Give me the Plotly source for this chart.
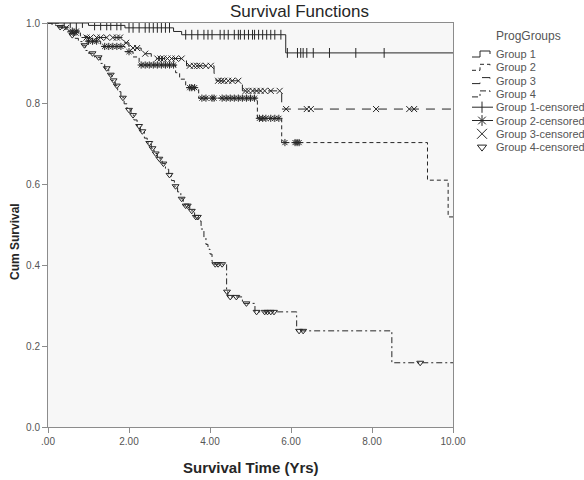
import plotly.graph_objects as go

W, H = 584, 480

# ---------------- data ----------------
x_ticks = [0, 2, 4, 6, 8, 10]
x_tick_labels = [".00", "2.00", "4.00", "6.00", "8.00", "10.00"]
y_ticks = [0, 0.2, 0.4, 0.6, 0.8, 1.0]
y_tick_labels = ["0.0", "0.2", "0.4", "0.6", "0.8", "1.0"]

group_names = ["Group 1", "Group 2", "Group 3", "Group 4"]

# Kaplan-Meier step functions (event times, survival after the event)
g1_t = [0, 1.0, 1.9, 3.1, 3.3, 5.87]
g1_s = [1.0, 0.994, 0.988, 0.979, 0.971, 0.926]
g1_cens = [0.4, 0.55, 0.7, 0.85, 1.15, 1.3, 1.45, 1.55, 1.7, 1.8, 2.0, 2.1, 2.25, 2.4,
           2.5, 2.6, 2.7, 2.8, 2.9, 3.0, 3.4, 3.55, 3.7, 3.85, 3.95, 4.05, 4.25, 4.35,
           4.45, 4.6, 4.7, 4.75, 4.85, 4.95, 5.05, 5.1, 5.2, 5.3, 5.4, 5.5, 5.6, 5.75,
           5.91, 6.16, 6.24, 6.3, 6.39, 6.55, 6.95, 7.6, 8.3]

g2_t = [0, 0.25, 0.5, 0.8, 0.95, 1.3, 1.9, 2.1, 2.25, 3.15, 3.25, 3.4, 3.72, 5.17,
        5.77, 9.37, 9.88]
g2_s = [1.0, 0.99, 0.98, 0.968, 0.955, 0.942, 0.929, 0.916, 0.896, 0.877, 0.861, 0.84,
        0.814, 0.764, 0.704, 0.611, 0.52]
g2_cens = [0.6, 0.7, 1.0, 1.1, 1.2, 1.4, 1.5, 1.6, 1.7, 1.8, 2.0, 2.3, 2.4, 2.5, 2.6,
           2.7, 2.8, 2.9, 3.0, 3.1, 3.5, 3.55, 3.62, 3.8, 3.9, 4.05, 4.1, 4.3, 4.4, 4.5,
           4.6, 4.7, 4.8, 4.9, 5.0, 5.1, 5.22, 5.3, 5.38, 5.5, 5.6, 5.7, 5.85, 6.1,
           6.15, 6.2]

g3_t = [0, 0.35, 0.55, 0.8, 1.85, 2.0, 2.3, 2.55, 3.42, 4.1, 4.15, 4.8, 5.77]
g3_s = [1.0, 0.988, 0.976, 0.964, 0.951, 0.938, 0.924, 0.912, 0.894, 0.875, 0.857,
        0.832, 0.787]
g3_cens = [0.45, 0.62, 0.68, 0.95, 1.05, 1.2, 1.3, 1.45, 1.6, 1.7, 1.78, 1.93, 2.1,
           2.2, 2.4, 2.7, 2.78, 2.85, 2.95, 3.05, 3.15, 3.3, 3.5, 3.6, 3.68, 3.75, 3.9,
           4.02, 4.2, 4.28, 4.35, 4.45, 4.55, 4.7, 4.88, 4.95, 5.05, 5.15, 5.25, 5.35,
           5.5, 5.72, 5.88, 6.39, 6.49, 8.1, 8.92, 9.04]

g4_t = [0, 0.1, 0.2, 0.35, 0.45, 0.55, 0.67, 0.75, 0.85, 0.92,
        1.0, 1.15, 1.3, 1.4, 1.5, 1.58, 1.66, 1.72, 1.8, 1.88,
        1.95, 2.05, 2.12, 2.2, 2.28, 2.38, 2.45, 2.55, 2.62, 2.7,
        2.82, 2.9, 2.98, 3.05, 3.12, 3.2, 3.28, 3.34, 3.5, 3.62,
        3.72, 3.78, 3.85, 3.9, 3.95, 4.0, 4.05, 4.1, 4.41, 4.44,
        4.8, 5.11, 6.14, 8.49]
g4_s = [1.0, 0.995, 0.99, 0.985, 0.978, 0.97, 0.962, 0.954, 0.945, 0.932,
        0.925, 0.915, 0.9, 0.888, 0.872, 0.858, 0.845, 0.83, 0.815, 0.8,
        0.785, 0.772, 0.76, 0.745, 0.732, 0.715, 0.703, 0.69, 0.677, 0.664,
        0.652, 0.638, 0.624, 0.61, 0.596, 0.582, 0.565, 0.548, 0.535, 0.52,
        0.51, 0.49, 0.47, 0.452, 0.44, 0.428, 0.41, 0.403, 0.335, 0.322,
        0.306, 0.285, 0.238, 0.159]
g4_cens = [0.3, 0.6, 0.9, 1.1, 1.25, 1.45, 1.55, 1.62, 1.7, 1.85, 2.0, 2.1, 2.25,
           2.33, 2.5, 2.58, 2.66, 2.75, 2.85, 3.0, 3.15, 3.3, 3.4, 3.45, 3.55, 3.65,
           3.7, 4.13, 4.2, 4.3, 4.42, 4.5, 4.65, 4.9, 5.15, 5.35, 5.42, 5.5, 5.58,
           6.2, 6.3, 9.19]

t_max = 10

# ---------------- styles ----------------
INK = "#262626"
AXIS = "#8c8c8c"
TXT = "#555555"
FONT = "Liberation Sans, Arial, sans-serif"

line_dashes = ["solid", "4px,3px", "9px,7px", "6px,3px,2px,3px"]
cens_symbols = ["line-ns-open", "asterisk-open", "x-thin-open", "triangle-down-open"]
cens_sizes = [7, 6, 6, 6]

groups = [(g1_t, g1_s, g1_cens), (g2_t, g2_s, g2_cens),
          (g3_t, g3_s, g3_cens), (g4_t, g4_s, g4_cens)]


def surv_at(ts, ss, t):
    val = ss[0]
    for ti, si in zip(ts, ss):
        if ti <= t:
            val = si
        else:
            break
    return val


fig = go.Figure()

for i, (ts, ss, cens) in enumerate(groups):
    assert len(ts) == len(ss)
    fig.add_trace(go.Scatter(
        x=list(ts) + [t_max], y=list(ss) + [ss[-1]],
        mode="lines", line=dict(color=INK, width=1, dash=line_dashes[i], shape="hv"),
        showlegend=False, hoverinfo="skip"))

for i, (ts, ss, cens) in enumerate(groups):
    fig.add_trace(go.Scatter(
        x=cens, y=[surv_at(ts, ss, c) for c in cens],
        mode="markers",
        marker=dict(symbol=cens_symbols[i], size=cens_sizes[i], color=INK,
                    line=dict(color=INK, width=1)),
        showlegend=False, hoverinfo="skip"))

# ---------------- custom legend (pixel coordinates on x2/y2) ----------------
leg_x0, leg_x1 = 472, 493
leg_rows = [54 + 13.3 * k for k in range(8)]
annotations = []
for i in range(4):
    y = leg_rows[i]
    fig.add_trace(go.Scatter(
        x=[leg_x0, 480, 480, 490, 490], y=[y + 3, y + 3, y - 3, y - 3, y],
        mode="lines", line=dict(color=INK, width=1, dash=line_dashes[i]),
        xaxis="x2", yaxis="y2", showlegend=False, hoverinfo="skip"))
    annotations.append(dict(x=494, y=y, xref="x2", yref="y2", text=group_names[i],
                            showarrow=False, xanchor="left", yanchor="middle",
                            font=dict(size=11, color=TXT, family=FONT)))
leg_sym = ["line-ns-open", "asterisk-open", "x-thin-open", "triangle-down-open"]
leg_size = [8, 9, 10, 8]
for i in range(4):
    y = leg_rows[4 + i]
    if i < 2:
        fig.add_trace(go.Scatter(
            x=[leg_x0, leg_x1], y=[y, y], mode="lines",
            line=dict(color=INK, width=1), xaxis="x2", yaxis="y2",
            showlegend=False, hoverinfo="skip"))
    fig.add_trace(go.Scatter(
        x=[482], y=[y], mode="markers",
        marker=dict(symbol=leg_sym[i], size=leg_size[i], color=INK,
                    line=dict(color=INK, width=1)),
        xaxis="x2", yaxis="y2", showlegend=False, hoverinfo="skip"))
    annotations.append(dict(x=494, y=y, xref="x2", yref="y2",
                            text=group_names[i] + "-censored",
                            showarrow=False, xanchor="left", yanchor="middle",
                            font=dict(size=11, color=TXT, family=FONT)))
annotations.append(dict(x=528, y=36, xref="x2", yref="y2", text="ProgGroups",
                        showarrow=False, xanchor="center", yanchor="middle",
                        font=dict(size=12, color=TXT, family=FONT)))

# titles
annotations.append(dict(x=299 / W, y=1 - 11 / H, xref="paper", yref="paper",
                        text="Survival Functions", showarrow=False,
                        xanchor="center", yanchor="middle",
                        font=dict(size=17, color=INK, family=FONT)))
annotations.append(dict(x=251 / W, y=1 - 467 / H, xref="paper", yref="paper",
                        text="<b>Survival Time (Yrs)</b>", showarrow=False,
                        xanchor="center", yanchor="middle",
                        font=dict(size=15, color=INK, family=FONT)))
annotations.append(dict(x=15 / W, y=1 - 242 / H, xref="paper", yref="paper",
                        text="<b>Cum Survival</b>", showarrow=False, textangle=-90,
                        xanchor="center", yanchor="middle",
                        font=dict(size=12, color=INK, family=FONT)))

fig.update_layout(
    width=W, height=H,
    margin=dict(l=0, r=0, t=0, b=0, autoexpand=False),
    paper_bgcolor="white", plot_bgcolor="white",
    font=dict(family=FONT, color=TXT),
    xaxis=dict(domain=[48 / W, 453 / W], range=[0, t_max], tickvals=x_ticks,
               ticktext=x_tick_labels, ticks="outside", ticklen=5, tickcolor=AXIS,
               showline=True, linecolor=AXIS, linewidth=1, mirror=True,
               showgrid=False, zeroline=False, tickfont=dict(size=10, color=TXT)),
    yaxis=dict(domain=[1 - 427 / H, 1 - 23 / H], range=[0, 1], tickvals=y_ticks,
               ticktext=y_tick_labels, ticks="outside", ticklen=5, tickcolor=AXIS,
               showline=True, linecolor=AXIS, linewidth=1, mirror=True,
               showgrid=False, zeroline=False, tickfont=dict(size=10, color=TXT)),
    xaxis2=dict(domain=[456 / W, 1], range=[456, 584], visible=False, anchor="y2",
                fixedrange=True),
    yaxis2=dict(domain=[0, 1], range=[480, 0], visible=False, anchor="x2",
                fixedrange=True),
    shapes=[dict(type="rect", xref="x domain", yref="y domain", x0=0, x1=1, y0=0, y1=1,
                 fillcolor="#f7f7f7", line=dict(width=0), layer="below")],
    annotations=annotations,
)

fig.write_html("out.html", config={"displayModeBar": False},
               post_script="document.body.style.margin='0';document.body.style.padding='0';")
